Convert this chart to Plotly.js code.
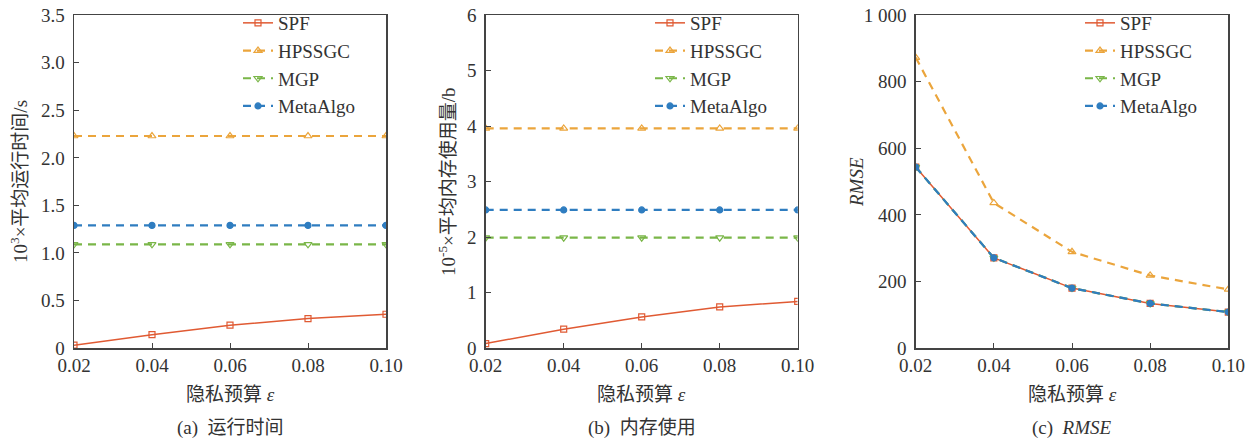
<!DOCTYPE html>
<html><head><meta charset="utf-8">
<script src="https://cdn.plot.ly/plotly-3.0.1.min.js"></script>
<style>html,body{margin:0;padding:0;background:#fff}#c{width:1253px;height:443px}</style>
</head><body><div id="c"></div>
<script>
const epsilon = [0.02, 0.04, 0.06, 0.08, 0.10];
const epsilonLabels = ['0.02', '0.04', '0.06', '0.08', '0.10'];
const seriesNames = ['SPF', 'HPSSGC', 'MGP', 'MetaAlgo'];

// (a) running time (10^3 x s)
const timeSPF = [0.03, 0.14, 0.24, 0.31, 0.355];
const timeHPSSGC = [2.23, 2.23, 2.23, 2.23, 2.23];
const timeMGP = [1.09, 1.09, 1.09, 1.09, 1.09];
const timeMeta = [1.29, 1.29, 1.29, 1.29, 1.29];
const timeTicks = [0, 0.5, 1.0, 1.5, 2.0, 2.5, 3.0, 3.5];
const timeTickText = ['0', '0.5', '1.0', '1.5', '2.0', '2.5', '3.0', '3.5'];

// (b) memory usage (10^-5 x b)
const memSPF = [0.08, 0.34, 0.56, 0.74, 0.84];
const memHPSSGC = [3.96, 3.96, 3.96, 3.96, 3.96];
const memMGP = [1.99, 1.99, 1.99, 1.99, 1.99];
const memMeta = [2.49, 2.49, 2.49, 2.49, 2.49];
const memTicks = [0, 1, 2, 3, 4, 5, 6];
const memTickText = ['0', '1', '2', '3', '4', '5', '6'];

// (c) RMSE
const rmseSPF = [544, 271, 180, 134, 108];
const rmseHPSSGC = [873, 436, 289, 218, 176];
const rmseMGP = [544, 271, 180, 134, 108];
const rmseMeta = [544, 271, 180, 134, 108];
const rmseTicks = [0, 200, 400, 600, 800, 1000];
const rmseTickText = ['0', '200', '400', '600', '800', '1 000'];

const colors = {SPF: '#E05A33', HPSSGC: '#EBA53C', MGP: '#7AB648', MetaAlgo: '#2F7DC0'};
const FONT = '"Liberation Serif", "Noto Sans CJK SC", serif';
const TXT = '#333333';

function mk(name, y, xa, ya, leg) {
  const st = {
    SPF: {dash: 'solid', width: 1.5, sym: 'square-open', size: 6},
    HPSSGC: {dash: '8px,6px', width: 2.2, sym: 'triangle-up-open', size: 7},
    MGP: {dash: '8px,6px', width: 2.2, sym: 'triangle-down-open', size: 7},
    MetaAlgo: {dash: '8px,6px', width: 2.2, sym: 'circle', size: 6}
  }[name];
  return {
    x: epsilon, y: y, name: name, xaxis: xa, yaxis: ya, legend: leg,
    type: 'scatter', mode: 'lines+markers',
    line: {color: colors[name], width: st.width, dash: st.dash},
    marker: {symbol: st.sym, size: st.size, color: colors[name], line: {color: colors[name], width: 1.2}}
  };
}

const data = [
  mk('SPF', timeSPF, 'x', 'y', 'legend'),
  mk('HPSSGC', timeHPSSGC, 'x', 'y', 'legend'),
  mk('MGP', timeMGP, 'x', 'y', 'legend'),
  mk('MetaAlgo', timeMeta, 'x', 'y', 'legend'),
  mk('SPF', memSPF, 'x2', 'y2', 'legend2'),
  mk('HPSSGC', memHPSSGC, 'x2', 'y2', 'legend2'),
  mk('MGP', memMGP, 'x2', 'y2', 'legend2'),
  mk('MetaAlgo', memMeta, 'x2', 'y2', 'legend2'),
  mk('SPF', rmseSPF, 'x3', 'y3', 'legend3'),
  mk('HPSSGC', rmseHPSSGC, 'x3', 'y3', 'legend3'),
  mk('MGP', rmseMGP, 'x3', 'y3', 'legend3'),
  mk('MetaAlgo', rmseMeta, 'x3', 'y3', 'legend3')
];

const W = 1253, H = 443;
const px = v => v / W;
const py = v => 1 - v / H;
const yDom = [py(348), py(15.3)];

function xax(l, r) {
  return {
    domain: [px(l), px(r)], range: [0.02, 0.10], tickvals: epsilon, ticktext: epsilonLabels,
    showline: true, mirror: true, linecolor: '#444', linewidth: 1.5,
    ticks: 'inside', ticklen: 5, tickcolor: '#444', showgrid: false, zeroline: false,
    tickfont: {family: FONT, size: 19, color: TXT}, fixedrange: true
  };
}
function yax(anchor, range, tv, tt) {
  return {
    domain: yDom, anchor: anchor, range: range, tickvals: tv, ticktext: tt,
    showline: true, mirror: true, linecolor: '#444', linewidth: 1.5,
    ticks: 'inside', ticklen: 5, tickcolor: '#444', showgrid: false, zeroline: false,
    tickfont: {family: FONT, size: 19, color: TXT}, ticklabelstandoff: 4, fixedrange: true
  };
}
function leg(xp) {
  return {
    x: px(xp), y: py(4), xanchor: 'left', yanchor: 'top', bgcolor: 'rgba(0,0,0,0)',
    font: {family: FONT, size: 19, color: TXT}, itemwidth: 30, tracegroupgap: 0
  };
}

const cap = (x, y, text, opts) => Object.assign({
  x: px(x), y: py(y), xref: 'paper', yref: 'paper', text: text, showarrow: false,
  font: {family: FONT, size: 19, color: TXT}, xanchor: 'center', yanchor: 'middle'
}, opts || {});

const layout = {
  width: W, height: H, margin: {l: 0, r: 0, t: 0, b: 0},
  paper_bgcolor: '#fff', plot_bgcolor: '#fff', showlegend: true,
  font: {family: FONT, color: TXT},
  xaxis: Object.assign(xax(74, 386), {anchor: 'y'}),
  yaxis: yax('x', [0, 3.5], timeTicks, timeTickText),
  xaxis2: Object.assign(xax(485.7, 797.7), {anchor: 'y2'}),
  yaxis2: yax('x2', [0, 6], memTicks, memTickText),
  xaxis3: Object.assign(xax(915.7, 1228.3), {anchor: 'y3'}),
  yaxis3: yax('x3', [0, 1000], rmseTicks, rmseTickText),
  legend: leg(238),
  legend2: leg(650),
  legend3: leg(1080),
  annotations: [
    cap(230, 394, '隐私预算 <i>ε</i>'),
    cap(641.7, 394, '隐私预算 <i>ε</i>'),
    cap(1072, 394, '隐私预算 <i>ε</i>'),
    cap(230, 428, '(a)  运行时间'),
    cap(641.7, 428, '(b)  内存使用'),
    cap(1072, 428, '(c)  <i>RMSE</i>'),
    cap(19, 182, '10<sup>3</sup>×平均运行时间/s', {textangle: -90}),
    cap(447, 182, '10<sup>-5</sup>×平均内存使用量/b', {textangle: -90}),
    cap(856, 182, '<i>RMSE</i>', {textangle: -90})
  ]
};

Plotly.newPlot('c', data, layout, {displayModeBar: false, staticPlot: true});
</script>
</body></html>
